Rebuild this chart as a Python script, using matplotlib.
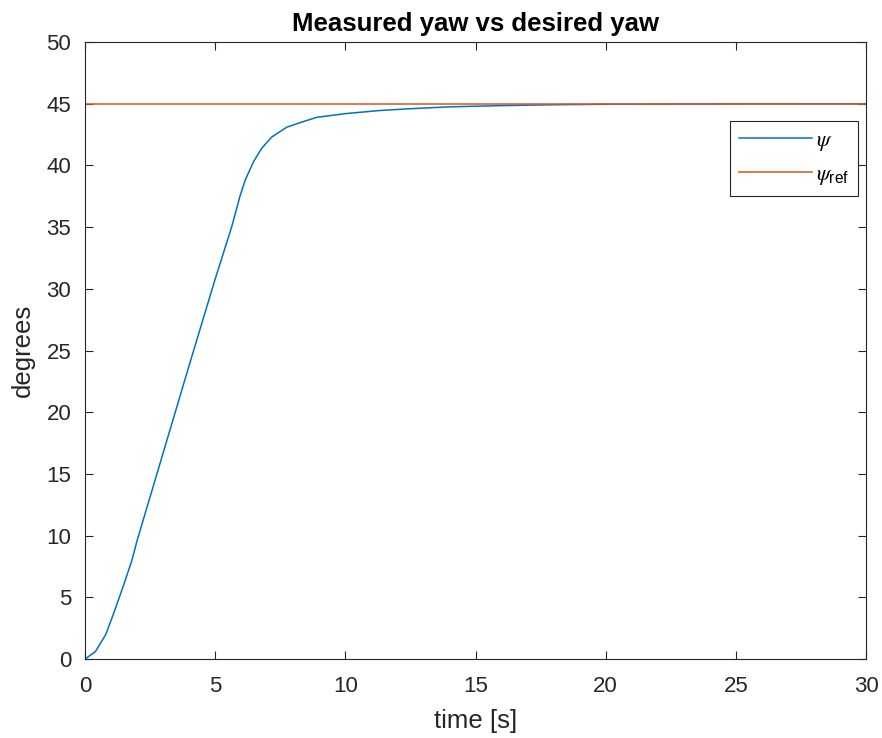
import matplotlib
matplotlib.use('Agg')
import matplotlib.pyplot as plt

# Measured yaw and the reference yaw
time_s = [0, 0.4, 0.8, 1.1, 1.5, 1.8, 2.0, 3.0, 4.0, 5.0, 5.63, 5.95, 6.15, 6.47,
          6.79, 7.17, 7.75, 8.3, 8.9, 10.0, 11.3, 12.5, 14.0, 16.0, 18.0, 20.0, 25.0, 30.0]
psi = [0, 0.6, 2.0, 3.7, 6.1, 8.0, 9.6, 16.7, 23.8, 30.8, 35.0, 37.5, 38.8, 40.3,
       41.4, 42.3, 43.1, 43.5, 43.9, 44.2, 44.45, 44.6, 44.75, 44.85, 44.92, 44.96, 44.99, 45.0]
psi_ref_time = [0, 30]
psi_ref = [45, 45]

xticks = [0, 5, 10, 15, 20, 25, 30]
yticks = [0, 5, 10, 15, 20, 25, 30, 35, 40, 45, 50]

plt.rcParams['font.family'] = ['Liberation Sans', 'DejaVu Sans']
plt.rcParams['mathtext.fontset'] = 'custom'
plt.rcParams['mathtext.it'] = 'STIXGeneral:italic'
plt.rcParams['mathtext.rm'] = 'Liberation Sans'

fig = plt.figure(figsize=(8.82, 7.38), dpi=100)
ax = fig.add_axes([0.0964, 0.107, 0.8855, 0.836])

ax.plot(time_s, psi, color='#0072BD', lw=1.1, label=r'$\psi$')
ax.plot(psi_ref_time, psi_ref, color='#D95319', lw=1.1, label=r'$\psi_{\mathrm{ref}}$')

ax.set_xlim(0, 30)
ax.set_ylim(0, 50)
ax.set_xticks(xticks)
ax.set_yticks(yticks)
ax.tick_params(direction='in', top=True, right=True, length=6, width=0.8,
               labelsize=16, colors='#262626')
ax.tick_params(axis='x', pad=12)
ax.tick_params(axis='y', pad=10)
for s in ax.spines.values():
    s.set_color('#262626')
    s.set_linewidth(0.8)

ax.set_xlabel('time [s]', fontsize=18.5, color='#262626', labelpad=9)
ax.set_ylabel('degrees', fontsize=18.5, color='#262626', labelpad=8)
ax.set_title('Measured yaw vs desired yaw', fontsize=18.5, fontweight='bold', pad=8)

leg = ax.legend(loc='upper right', bbox_to_anchor=(0.9898, 0.872), borderaxespad=0,
                fontsize=16, fancybox=False, framealpha=1, edgecolor='#262626',
                handlelength=3.25, handletextpad=0.2, borderpad=0.4, labelspacing=0.5)
leg.get_frame().set_linewidth(0.8)

fig.savefig('out.png', dpi=100)
